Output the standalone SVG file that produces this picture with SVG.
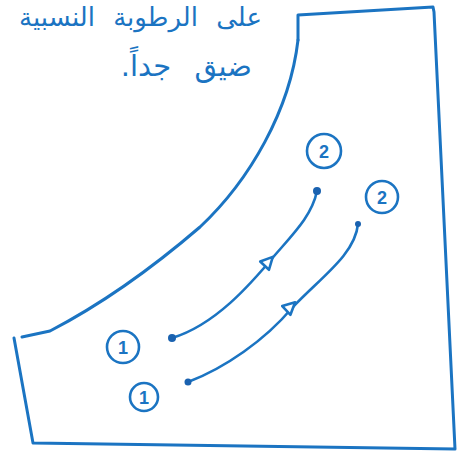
<svg xmlns="http://www.w3.org/2000/svg" width="462" height="461" viewBox="0 0 462 461">
  <style>
    .ink { fill: none; stroke: #1b74c2; stroke-width: 3; stroke-linecap: round; stroke-linejoin: round; }
    .thin { fill: none; stroke: #1b74c2; stroke-width: 2.6; stroke-linecap: round; stroke-linejoin: round; }
    .dot { fill: #1a62b0; }
    .num { font-family: "Liberation Sans", "DejaVu Sans", sans-serif; font-size: 18px; font-weight: bold; fill: #1b74c2; text-anchor: middle; }
    .ar { font-family: "DejaVu Sans", "Noto Sans", sans-serif; fill: #1b74c2; text-anchor: start; direction: rtl; unicode-bidi: embed; }
    .arrow { fill: #ffffff; stroke: #1b74c2; stroke-width: 2.6; stroke-linejoin: round; }
  </style>
  <defs>
    <polygon id="tri" points="7,0 -5,-6 -5,6"/>
  </defs>
  <rect width="462" height="461" fill="#ffffff"/>

  <g id="title">
    <text class="ar" x="262" y="26" font-size="26" word-spacing="10">على الرطوبة النسبية</text>
    <text class="ar" x="252" y="76" font-size="29" word-spacing="14">ضيق جداً.</text>
  </g>

  <g id="outline">
    <path class="ink" d="M 298,40 L 298,15 L 433,7 L 434,12 L 455,449 L 33,443 L 14,338"/>
    <path class="ink" d="M 298,40 C 290,110 250,180 200,227 C 150,270 100,305 50,331 L 22,337"/>
  </g>

  <g id="connectors">
    <path class="thin" d="M 172,338 C 215,325 250,285 275,255 C 295,232 312,215 317,191"/>
    <path class="thin" d="M 188,382 C 225,368 265,340 292,308 C 320,278 355,255 358,224"/>
    <use href="#tri" class="arrow" transform="translate(268,262) rotate(-47)"/>
    <use href="#tri" class="arrow" transform="translate(290,307) rotate(-43)"/>
    <circle class="dot" cx="172" cy="338" r="4"/>
    <circle class="dot" cx="317" cy="191" r="4"/>
    <circle class="dot" cx="188" cy="382" r="3.5"/>
    <circle class="dot" cx="358" cy="224" r="3"/>
  </g>

  <g id="node-2a">
    <circle class="thin" cx="324" cy="151" r="17"/>
    <text class="num" x="324" y="158">2</text>
  </g>
  <g id="node-2b">
    <circle class="thin" cx="382" cy="197" r="16"/>
    <text class="num" x="382" y="204">2</text>
  </g>
  <g id="node-1a">
    <circle class="thin" cx="123" cy="347" r="16"/>
    <text class="num" x="123" y="354">1</text>
  </g>
  <g id="node-1b">
    <circle class="thin" cx="144" cy="397" r="14"/>
    <text class="num" x="144" y="404">1</text>
  </g>
</svg>
